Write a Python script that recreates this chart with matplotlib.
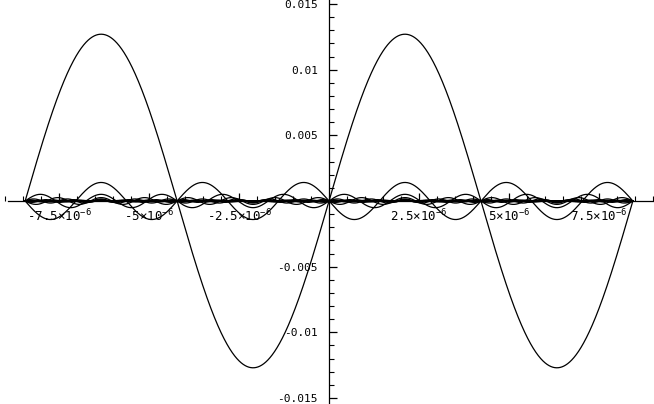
import numpy as np
import matplotlib
matplotlib.use("Agg")
import matplotlib.pyplot as plt
from matplotlib.ticker import MultipleLocator, FixedLocator

# Data
base_amplitude = 0.0127          # amplitude of the fundamental
half_period = 4.22e-6            # zero spacing of the fundamental
harmonics = [1, 3, 5, 7, 9, 11, 13, 15, 17, 19, 21, 23, 25, 27, 29, 31,
             33, 35, 37, 39, 41]
x_start, x_end = -8.44e-6, 8.44e-6
x_ticks = [-7.5e-6, -5e-6, -2.5e-6, 2.5e-6, 5e-6, 7.5e-6]
x_tick_labels = [r"-7.5×10$^{-6}$", r"-5×10$^{-6}$", r"-2.5×10$^{-6}$",
                 r"2.5×10$^{-6}$", r"5×10$^{-6}$", r"7.5×10$^{-6}$"]
y_ticks = [-0.015, -0.01, -0.005, 0.005, 0.01, 0.015]
y_tick_labels = ["-0.015", "-0.01", "-0.005", "0.005", "0.01", "0.015"]

plt.rcParams['font.family'] = ['DejaVu Sans Mono']
plt.rcParams['mathtext.default'] = 'regular'
plt.rcParams['axes.unicode_minus'] = False

fig = plt.figure(figsize=(6.54, 4.04), dpi=100)
ax = fig.add_axes([0, 0, 1, 1])

x = np.linspace(x_start, x_end, 3000)
for k, n in enumerate(harmonics):
    amp = base_amplitude / n**2 * (-1) ** k
    ax.plot(x, amp * np.sin(n * np.pi * x / half_period), color='black', lw=0.9)

ax.set_xlim(-329 / 36e6, (654 - 329) / 36e6)
ax.set_ylim(-0.015 * 203 / 197, 0.015 * 201 / 197)

for s in ['top', 'right']:
    ax.spines[s].set_visible(False)
ax.spines['left'].set_position(('data', 0))
ax.spines['bottom'].set_position(('data', 0))
ax.spines['left'].set_linewidth(0.9)
ax.spines['bottom'].set_linewidth(0.9)
ax.spines['bottom'].set_bounds(-321 / 36e6, (654 - 329) / 36e6)

ax.xaxis.set_major_locator(FixedLocator(x_ticks))
ax.set_xticklabels(x_tick_labels)
ax.xaxis.set_minor_locator(MultipleLocator(0.5e-6))
ax.yaxis.set_major_locator(FixedLocator(y_ticks))
ax.set_yticklabels(y_tick_labels)
ax.yaxis.set_minor_locator(MultipleLocator(0.001))

ax.tick_params(axis='both', which='major', direction='in', length=6, width=0.9,
               labelsize=8, color='black')
ax.tick_params(axis='x', which='major', labelsize=9)
ax.tick_params(axis='both', which='minor', direction='in', length=3.5, width=0.8)
ax.tick_params(axis='x', which='both', pad=5)
ax.tick_params(axis='y', which='both', pad=8)

fig.savefig("out.png", dpi=100)
